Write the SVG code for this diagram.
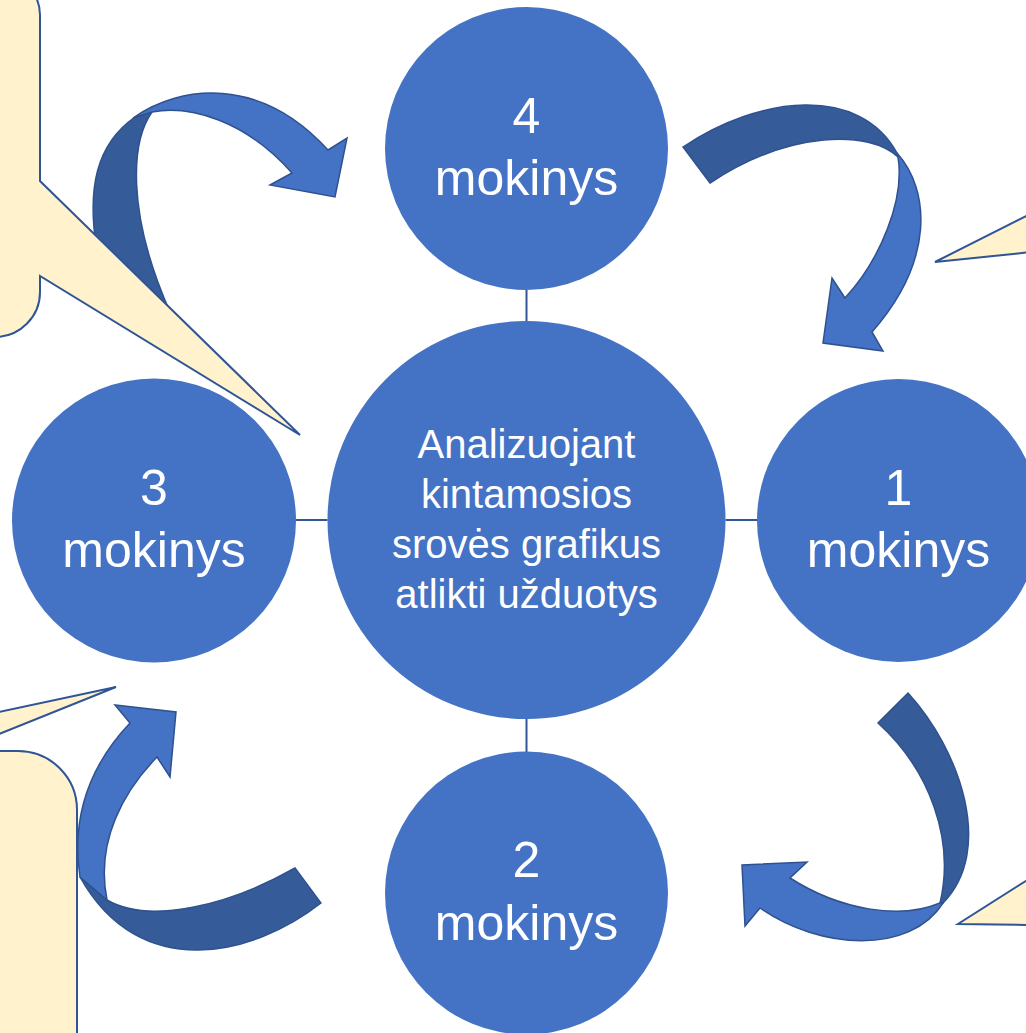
<svg xmlns="http://www.w3.org/2000/svg" width="1026" height="1033" viewBox="0 0 1026 1033">
  <style>
    .node { fill: #4472C4; }
    .lbl { fill: #FFFFFF; font-family: "Liberation Sans", Arial, sans-serif; text-anchor: middle; }
    .big { font-size: 50px; }
    .mid { font-size: 40px; }
    .link { stroke: #2F5597; stroke-width: 2; fill: none; }
    .arrow-front { fill: #4472C4; stroke: #2F528F; stroke-width: 1.5; stroke-linejoin: miter; }
    .arrow-back { fill: #355B99; stroke: #2F528F; stroke-width: 1.5; }
    .callout { fill: #FFF2CC; stroke: #2F5597; stroke-width: 2; stroke-linejoin: miter; }
  </style>
  <rect width="1026" height="1033" fill="#FFFFFF"/>

  <g id="connectors">
    <line class="link" x1="526.5" y1="290" x2="526.5" y2="321"/>
    <line class="link" x1="526.5" y1="719" x2="526.5" y2="752"/>
    <line class="link" x1="296" y1="520" x2="327.5" y2="520"/>
    <line class="link" x1="725.5" y1="520" x2="757" y2="520"/>
  </g>

  <g id="node-center">
    <circle class="node" cx="526.5" cy="520" r="199"/>
    <text class="lbl mid" x="526.5" y="458">Analizuojant</text>
    <text class="lbl mid" x="526.5" y="508">kintamosios</text>
    <text class="lbl mid" x="526.5" y="558">srovės grafikus</text>
    <text class="lbl mid" x="526.5" y="608">atlikti užduotys</text>
  </g>
  <g id="node-4">
    <circle class="node" cx="526.5" cy="148.5" r="141.5"/>
    <text class="lbl big" x="526.5" y="133">4</text>
    <text class="lbl big" x="526.5" y="195">mokinys</text>
  </g>
  <g id="node-3">
    <circle class="node" cx="154" cy="520.5" r="142"/>
    <text class="lbl big" x="154" y="505">3</text>
    <text class="lbl big" x="154" y="567">mokinys</text>
  </g>
  <g id="node-1">
    <circle class="node" cx="898.5" cy="520.5" r="141.5"/>
    <text class="lbl big" x="898.5" y="505">1</text>
    <text class="lbl big" x="898.5" y="567">mokinys</text>
  </g>
  <g id="node-2">
    <circle class="node" cx="526.5" cy="893" r="141.5"/>
    <text class="lbl big" x="526.5" y="877">2</text>
    <text class="lbl big" x="526.5" y="940">mokinys</text>
  </g>

  <g id="cycle-arrows">
    <!-- 3 -> 4 -->
    <path class="arrow-back" d="M 96 245 C 88 190, 95 145, 135 117 L 152 112 C 132 140, 125 210, 170 312 Z"/>
    <path class="arrow-front" d="M 133 118 C 180 85, 260 75, 328 150 L 347 138 L 335 197 L 270 185 L 292 173 C 245 120, 190 105, 152 112 Z"/>
    <!-- 4 -> 1 -->
    <path class="arrow-back" d="M 683 147 C 760 95, 860 85, 897 153 L 898 157 C 870 130, 790 130, 710 183 Z"/>
    <path class="arrow-front" d="M 897 153 C 930 190, 935 260, 872 332 L 883 351 L 823 343 L 832 278 L 845 298 C 880 260, 905 200, 898 157 Z"/>
    <!-- 1 -> 2 -->
    <path class="arrow-back" d="M 908 693 C 960 750, 995 850, 943 903 L 940 903 C 955 840, 930 770, 878 723 Z"/>
    <path class="arrow-front" d="M 943 903 C 910 955, 820 950, 760 908 L 745 926 L 742 865 L 807 862 L 790 878 C 840 910, 900 920, 940 903 Z"/>
    <!-- 2 -> 3 -->
    <path class="arrow-back" d="M 295 868 L 321 903 C 255 955, 140 985, 80 877 L 107 900 C 150 925, 230 905, 295 868 Z"/>
    <path class="arrow-front" d="M 80 877 C 70 810, 95 760, 130 723 L 115 705 L 176 712 L 170 777 L 157 757 C 125 790, 95 840, 107 900 Z"/>
  </g>

  <g id="callout-top-left">
    <path class="callout" d="M -100 -25 L 0 -25 A 40 40 0 0 1 40 15 L 40 181 L 300 435 L 40 276 L 40 292 A 45 45 0 0 1 -5 337 L -100 337 Z"/>
  </g>
  <g id="callout-top-right">
    <path class="callout" d="M 1032 213 L 935 262 L 1032 252 Z"/>
  </g>
  <g id="callout-bottom-left">
    <path class="callout" d="M -6 713 L 116 687 L -6 736 Z"/>
    <path class="callout" d="M -10 751 L 18 751 A 59 59 0 0 1 77 810 L 77 1045 L -10 1045 Z"/>
  </g>
  <g id="callout-bottom-right">
    <path class="callout" d="M 1032 877 L 958 924 L 1032 925 Z"/>
  </g>
</svg>
